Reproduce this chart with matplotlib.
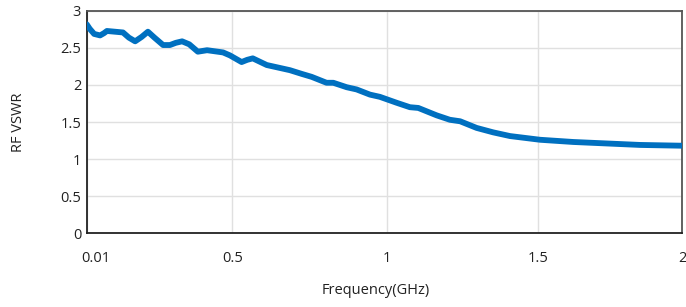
import numpy as np
import matplotlib.pyplot as plt
from matplotlib.transforms import ScaledTranslation

plt.rcParams['font.family'] = ['Open Sans', 'DejaVu Sans']

# frequency (GHz) and VSWR
freq = [0.01, 0.02, 0.035, 0.055, 0.068, 0.078, 0.105, 0.132, 0.152, 0.173,
        0.195, 0.216, 0.238, 0.267, 0.290, 0.310, 0.331, 0.355, 0.384, 0.415,
        0.469, 0.492, 0.530, 0.548, 0.566, 0.611, 0.686, 0.724, 0.756,
        0.804, 0.826, 0.869, 0.901, 0.944, 0.976, 1.031, 1.075, 1.103, 1.164,
        1.208, 1.242, 1.297, 1.352, 1.408, 1.508, 1.623, 1.739, 1.854, 1.993, 2.0]
vswr = [2.82, 2.76, 2.69, 2.67, 2.70, 2.73, 2.72, 2.71, 2.64, 2.59,
        2.65, 2.72, 2.64, 2.54, 2.54, 2.57, 2.59, 2.55, 2.45, 2.47,
        2.44, 2.40, 2.31, 2.34, 2.36, 2.27, 2.20, 2.15, 2.11,
        2.03, 2.03, 1.97, 1.94, 1.87, 1.84, 1.76, 1.70, 1.69, 1.59,
        1.53, 1.51, 1.42, 1.36, 1.31, 1.26, 1.23, 1.21, 1.19, 1.18, 1.18]

xticks = [0.01, 0.5, 1, 1.5, 2]
xtick_labels = ['0.01', '0.5', '1', '1.5', '2']
yticks = [0, 0.5, 1, 1.5, 2, 2.5, 3]
ytick_labels = ['0', '0.5', '1', '1.5', '2', '2.5', '3']

# the source chart spaces its x ticks slightly unevenly
tick_pos = [0, 145.6, 300.6, 451.0, 595.6]

def fwd(x):
    return np.interp(x, xticks, tick_pos)

def inv(p):
    return np.interp(p, tick_pos, xticks)

fig = plt.figure(figsize=(6.86, 3.07), dpi=100)
ax = fig.add_axes([0.1264, 0.241, 0.8682, 0.7232])
ax.set_xscale('function', functions=(fwd, inv))

ax.plot(freq, vswr, color='#0070c0', lw=4.2, solid_capstyle='round',
        solid_joinstyle='round', zorder=3)

ax.set_xlim(0.01, 2)
ax.set_ylim(0, 3)
ax.set_xticks(xticks)
ax.set_xticklabels(xtick_labels)
ax.set_yticks(yticks)
ax.set_yticklabels(ytick_labels)
ax.grid(True, color='#e0e0e0', lw=1)
ax.set_axisbelow(True)
ax.tick_params(length=0, labelsize=10.5, colors='#222222')
ax.tick_params(axis='x', pad=13)
ax.tick_params(axis='y', pad=4)

first = ax.get_xticklabels()[0]
first.set_transform(first.get_transform() + ScaledTranslation(0.09, 0, fig.dpi_scale_trans))

for s in ['left', 'bottom']:
    ax.spines[s].set_color('#222222')
    ax.spines[s].set_linewidth(1.3)
for s in ['top', 'right']:
    ax.spines[s].set_color('#555555')
    ax.spines[s].set_linewidth(1.3)

ax.set_xlabel('Frequency(GHz)', fontsize=10.5, color='#222222')
ax.set_ylabel('RF VSWR', fontsize=10.5, color='#222222')
ax.xaxis.set_label_coords(0.486, -0.261)
ax.yaxis.set_label_coords(-0.114, 0.5)
ax.xaxis.label.set_va('center')
ax.yaxis.label.set_va('center')

fig.savefig('out.png', dpi=100)
